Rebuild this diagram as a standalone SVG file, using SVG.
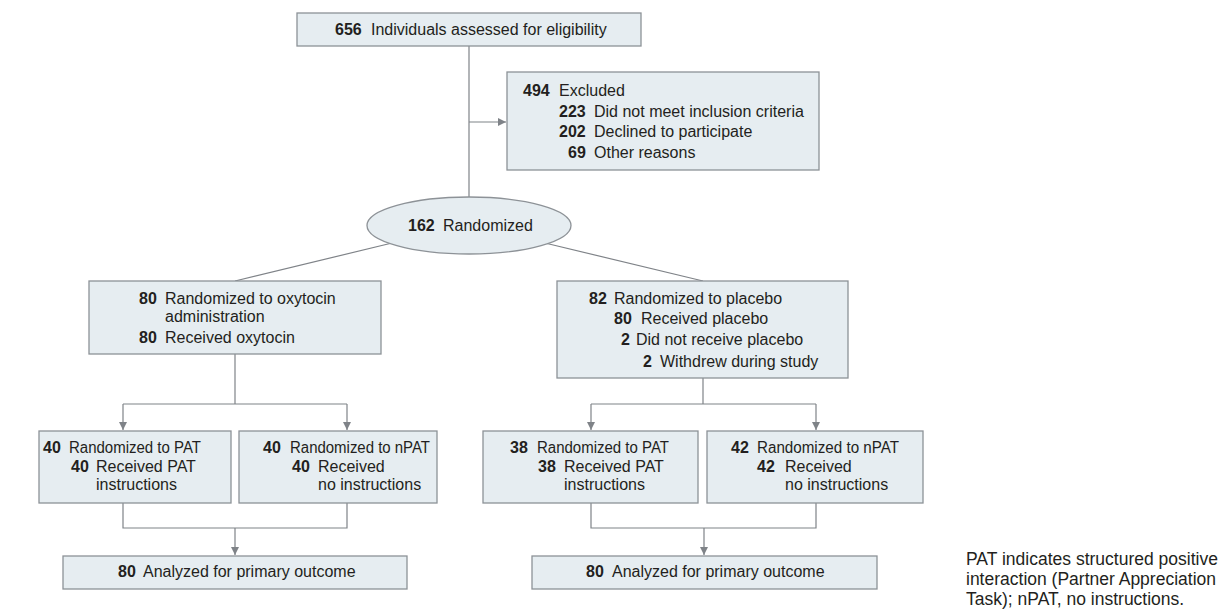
<svg xmlns="http://www.w3.org/2000/svg" width="1220" height="609" viewBox="0 0 1220 609">
<style>
.box{fill:#e6edf1;stroke:#8d9297;stroke-width:1.3}
.t{font-family:"Liberation Sans",Arial,sans-serif;font-size:16px;fill:#231f20}
.n{font-family:"Liberation Sans",Arial,sans-serif;font-size:16px;font-weight:bold;fill:#231f20}
.lg{font-family:"Liberation Sans",Arial,sans-serif;font-size:17.5px;fill:#231f20}
.c{stroke:#7f8388;stroke-width:1.2;fill:none}
</style>
<defs>
<marker id="ah" viewBox="0 0 10 10" refX="10" refY="5" markerWidth="8" markerHeight="8" markerUnits="userSpaceOnUse" orient="auto">
<path d="M0,0 L10,5 L0,10 z" fill="#7f8388"/>
</marker>
</defs>
<rect width="1220" height="609" fill="#ffffff"/>
<g id="connectors">
<line class="c" x1="469" y1="46" x2="469" y2="197"/>
<line class="c" x1="469" y1="122" x2="506" y2="122" marker-end="url(#ah)"/>
<line class="c" x1="390" y1="243.5" x2="235" y2="281"/>
<line class="c" x1="547" y1="243.5" x2="703" y2="281"/>
<line class="c" x1="235" y1="354" x2="235" y2="404"/>
<line class="c" x1="123" y1="404" x2="347" y2="404"/>
<line class="c" x1="123" y1="404" x2="123" y2="430" marker-end="url(#ah)"/>
<line class="c" x1="347" y1="404" x2="347" y2="430" marker-end="url(#ah)"/>
<line class="c" x1="703" y1="378" x2="703" y2="404"/>
<line class="c" x1="591" y1="404" x2="816" y2="404"/>
<line class="c" x1="591" y1="404" x2="591" y2="430" marker-end="url(#ah)"/>
<line class="c" x1="816" y1="404" x2="816" y2="430" marker-end="url(#ah)"/>
<path class="c" d="M123,503 V528 H347 V503"/>
<line class="c" x1="235" y1="528" x2="235" y2="555" marker-end="url(#ah)"/>
<path class="c" d="M591,503 V528 H816 V503"/>
<line class="c" x1="704" y1="528" x2="704" y2="555" marker-end="url(#ah)"/>
</g>
<g id="assessed">
<rect class="box" x="297" y="13" width="344" height="33"/>
<text class="n" x="335" y="35">656</text>
<text class="t" x="371" y="35">Individuals assessed for eligibility</text>
</g>
<g id="excluded">
<rect class="box" x="507" y="72" width="312" height="98"/>
<text class="n" x="523" y="96">494</text>
<text class="t" x="559" y="96">Excluded</text>
<text class="n" x="559" y="117">223</text>
<text class="t" x="594" y="117">Did not meet inclusion criteria</text>
<text class="n" x="559" y="137">202</text>
<text class="t" x="594" y="137">Declined to participate</text>
<text class="n" x="568" y="158">69</text>
<text class="t" x="594" y="158">Other reasons</text>
</g>
<g id="randomized">
<ellipse class="box" cx="469" cy="225.5" rx="102" ry="28.5"/>
<text class="n" x="408" y="231">162</text>
<text class="t" x="443" y="231">Randomized</text>
</g>
<g id="oxytocin">
<rect class="box" x="89" y="281" width="292" height="73"/>
<text class="n" x="139" y="304">80</text>
<text class="t" x="165" y="304">Randomized to oxytocin</text>
<text class="t" x="165" y="322">administration</text>
<text class="n" x="139" y="343">80</text>
<text class="t" x="165" y="343">Received oxytocin</text>
</g>
<g id="placebo">
<rect class="box" x="557" y="281" width="291" height="97"/>
<text class="n" x="589" y="304">82</text>
<text class="t" x="614" y="304">Randomized to placebo</text>
<text class="n" x="614" y="324">80</text>
<text class="t" x="641" y="324">Received placebo</text>
<text class="n" x="621" y="345">2</text>
<text class="t" x="636" y="345">Did not receive placebo</text>
<text class="n" x="643" y="367">2</text>
<text class="t" x="660" y="367">Withdrew during study</text>
</g>
<g id="oxy-pat">
<rect class="box" x="39" y="431" width="192" height="72"/>
<text class="n" x="43" y="453">40</text>
<text class="t" x="69" y="453" textLength="132" lengthAdjust="spacingAndGlyphs">Randomized to PAT</text>
<text class="n" x="71" y="472">40</text>
<text class="t" x="96" y="472">Received PAT</text>
<text class="t" x="96" y="490">instructions</text>
</g>
<g id="oxy-npat">
<rect class="box" x="239" y="431" width="198" height="72"/>
<text class="n" x="263" y="453">40</text>
<text class="t" x="290" y="453" textLength="140" lengthAdjust="spacingAndGlyphs">Randomized to nPAT</text>
<text class="n" x="292" y="472">40</text>
<text class="t" x="318" y="472">Received</text>
<text class="t" x="318" y="490">no instructions</text>
</g>
<g id="pla-pat">
<rect class="box" x="483" y="431" width="215" height="72"/>
<text class="n" x="510" y="453">38</text>
<text class="t" x="537" y="453" textLength="132" lengthAdjust="spacingAndGlyphs">Randomized to PAT</text>
<text class="n" x="538" y="472">38</text>
<text class="t" x="564" y="472">Received PAT</text>
<text class="t" x="564" y="490">instructions</text>
</g>
<g id="pla-npat">
<rect class="box" x="707" y="431" width="216" height="72"/>
<text class="n" x="731" y="453">42</text>
<text class="t" x="757" y="453" textLength="142" lengthAdjust="spacingAndGlyphs">Randomized to nPAT</text>
<text class="n" x="757" y="472">42</text>
<text class="t" x="785" y="472">Received</text>
<text class="t" x="785" y="490">no instructions</text>
</g>
<g id="oxy-analyzed">
<rect class="box" x="63" y="556" width="344" height="33"/>
<text class="n" x="118" y="577">80</text>
<text class="t" x="143" y="577">Analyzed for primary outcome</text>
</g>
<g id="pla-analyzed">
<rect class="box" x="532" y="556" width="345" height="33"/>
<text class="n" x="586" y="577">80</text>
<text class="t" x="612" y="577">Analyzed for primary outcome</text>
</g>
<g id="legend">
<text class="lg" x="966" y="565">PAT indicates structured positive</text>
<text class="lg" x="966" y="585">interaction (Partner Appreciation</text>
<text class="lg" x="966" y="605">Task); nPAT, no instructions.</text>
</g>
</svg>
